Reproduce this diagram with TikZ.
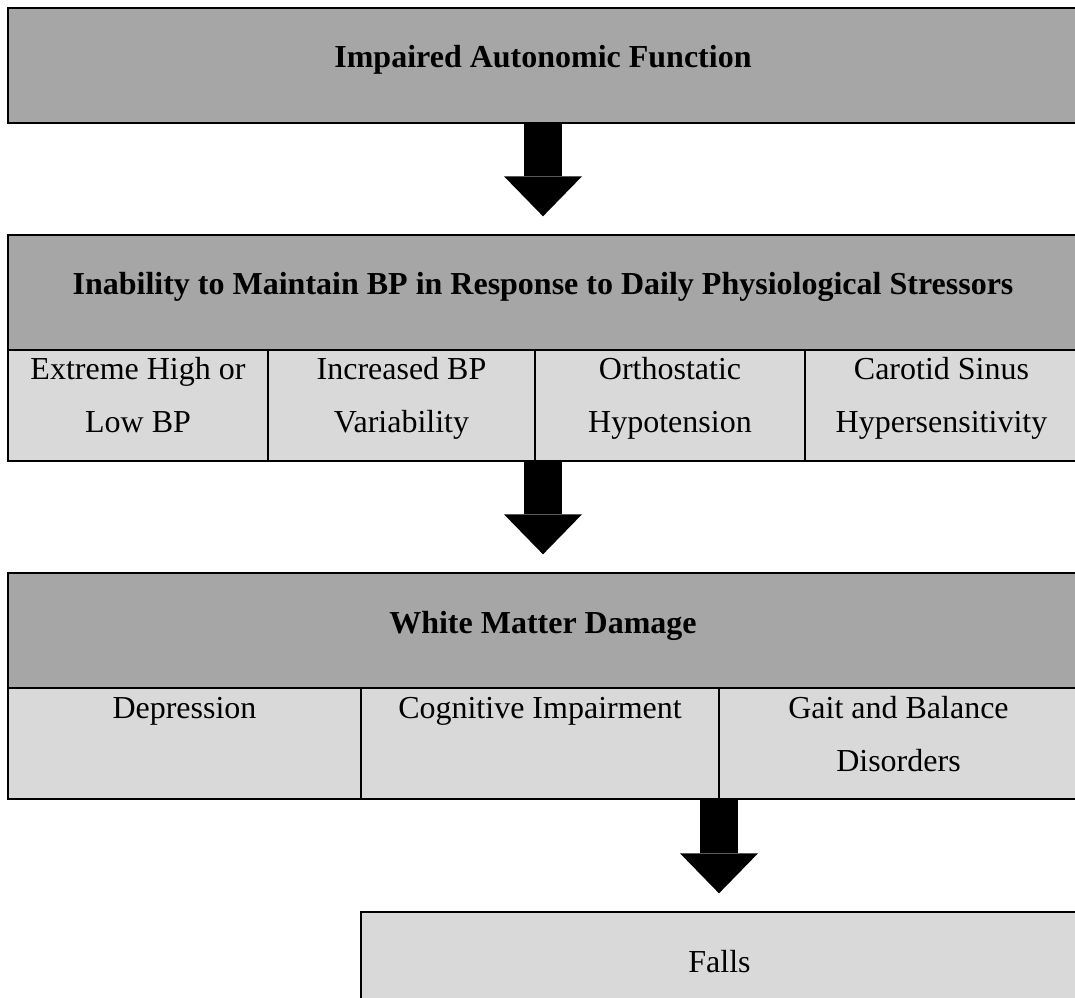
\documentclass[tikz,border=0pt]{standalone}
\usepackage{fontspec}
\setmainfont{Liberation Serif}
\usetikzlibrary{positioning,arrows.meta}

\definecolor{headgrey}{RGB}{166,166,166}
\definecolor{cellgrey}{RGB}{217,217,217}

\tikzset{every picture/.style={line width=0.75pt}}
\tikzset{
	headbox/.style={draw, line width=1.5pt, fill=headgrey, inner sep=0pt, outer sep=0pt, text width=802.5pt, align=flush center, text height=45pt, text depth=41.25pt, font=\fontsize{24}{39.75}\selectfont\bfseries},
	cellbox/.style={draw, line width=1pt, fill=cellgrey, inner sep=0pt, outer sep=0pt, align=flush center, text height=22.5pt, text depth=60.75pt, font=\fontsize{24}{39.75}\selectfont},
	fallsbox/.style={draw, line width=1.5pt, fill=cellgrey, inner sep=0pt, outer sep=0pt, align=flush center, text height=45pt, text depth=41.25pt, font=\fontsize{24}{39.75}\selectfont},
	downarrow/.style={line width=28.5pt, -{Triangle[width=58.5pt,length=30pt,line width=0pt]}, shorten >=14pt}
}

\begin{document}
\begin{tikzpicture}[x=0.75pt,y=0.75pt,yscale=-1]
	\useasboundingbox (0,0) rectangle (1075,998);
	\clip (0,0) rectangle (1075,998);
	
	% Header: autonomic function
	\node[headbox, anchor=north west] (impaired) at (8,8) {Impaired Autonomic Function};
	
	% Header: BP regulation, with its four cells
	\node[headbox, anchor=north west] (inability) at (8,235) {Inability to Maintain BP in Response to Daily Physiological Stressors};
	\node[cellbox, text width=195pt, anchor=north west] (extreme) at (inability.south west) {Extreme High or\\Low BP};
	\node[cellbox, text width=200.25pt, right=0pt of extreme] (variability) {Increased BP\\Variability};
	\node[cellbox, text width=202.5pt, right=0pt of variability] (orthostatic) {Orthostatic\\Hypotension};
	\node[cellbox, text width=204.75pt, right=0pt of orthostatic] (carotid) {Carotid Sinus\\Hypersensitivity};
	
	% Header: white matter, with its three cells
	\node[headbox, anchor=north west] (whitematter) at (8,573) {White Matter Damage};
	\node[cellbox, text width=264.75pt, anchor=north west] (depression) at (whitematter.south west) {Depression};
	\node[cellbox, text width=268.5pt, right=0pt of depression] (cognitive) {Cognitive Impairment};
	\node[cellbox, text width=269.25pt, right=0pt of cognitive] (gait) {Gait and Balance\\Disorders};
	
	% Outcome
	\node[fallsbox, text width=537.75pt, anchor=north west] (falls) at (361,912) {Falls};
	
	% Block arrows
	\draw[downarrow] (impaired.south) -- (inability.north);
	\draw[downarrow] (inability.center |- extreme.south) -- (whitematter.north);
	\draw[downarrow] (gait.south west) -- (gait.south west |- falls.north);
	
\end{tikzpicture}
\end{document}
